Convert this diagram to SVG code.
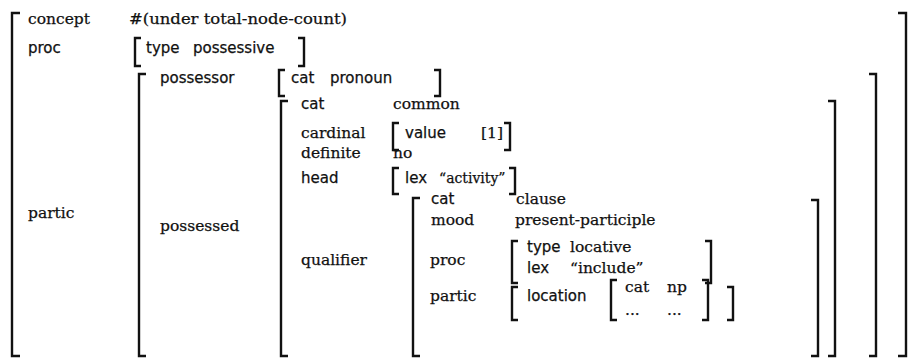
<svg xmlns="http://www.w3.org/2000/svg" width="915" height="360" viewBox="0 0 915 360">
<style>
.r{font-family:"DejaVu Serif","Liberation Serif",serif;font-size:15.5px;fill:#111;stroke:#111;stroke-width:0.25}
.s{font-family:"DejaVu Sans","Liberation Sans",sans-serif;font-size:15px;fill:#111;stroke:#111;stroke-width:0.25}
.b{fill:none;stroke:#111;stroke-width:2.4}
</style>
<rect width="915" height="360" fill="#fff"/>
<g id="root">
<path class="b" d="M20 13H12V356H20"/>
<path class="b" d="M898 13H906V356H898"/>
<text class="r" x="28" y="24">concept</text>
<text class="r" x="129" y="24" textLength="218" lengthAdjust="spacingAndGlyphs">#(under total-node-count)</text>
<text class="s" x="28" y="53">proc</text>
<text class="r" x="28" y="218">partic</text>
</g>
<g id="proc">
<path class="b" d="M141 38H135V66H141"/>
<path class="b" d="M298 38H304V66H298"/>
<text class="s" x="146" y="53">type</text>
<text class="s" x="193" y="53">possessive</text>
</g>
<g id="partic">
<path class="b" d="M146 74H139V356H146"/>
<path class="b" d="M869 74H876V356H869"/>
<text class="s" x="160" y="83">possessor</text>
<text class="r" x="160" y="231">possessed</text>
</g>
<g id="possessor">
<path class="b" d="M285 70H279V96H285"/>
<path class="b" d="M434 70H440V96H434"/>
<text class="s" x="291" y="83">cat</text>
<text class="s" x="330" y="83">pronoun</text>
</g>
<g id="possessed">
<path class="b" d="M288 101H281V356H288"/>
<path class="b" d="M828 101H835V356H828"/>
<text class="s" x="301" y="109">cat</text>
<text class="r" x="393" y="109">common</text>
<text class="r" x="301" y="138">cardinal</text>
<text class="r" x="301" y="158">definite</text>
<text class="r" x="393" y="158">no</text>
<text class="s" x="301" y="183">head</text>
<text class="r" x="301" y="265">qualifier</text>
</g>
<g id="cardinal">
<path class="b" d="M399 123H393V150H399"/>
<path class="b" d="M504 123H510V150H504"/>
<text class="s" x="405" y="138">value</text>
<text class="r" x="481" y="138">[1]</text>
</g>
<g id="head">
<path class="b" d="M399 168H393V194H399"/>
<path class="b" d="M509 168H515V194H509"/>
<text class="s" x="405" y="183">lex</text>
<text class="r" x="439" y="183" style="font-size:14px">“activity”</text>
</g>
<g id="qualifier">
<path class="b" d="M420 198H413V356H420"/>
<path class="b" d="M811 200H818V356H811"/>
<text class="s" x="431" y="204">cat</text>
<text class="r" x="516" y="204">clause</text>
<text class="r" x="431" y="225">mood</text>
<text class="r" x="515" y="225">present-participle</text>
<text class="r" x="430" y="265">proc</text>
<text class="r" x="430" y="301">partic</text>
</g>
<g id="qualifier-proc">
<path class="b" d="M518 241H512V283H518"/>
<path class="b" d="M705 241H711V283H705"/>
<text class="s" x="527" y="252">type</text>
<text class="r" x="570" y="252">locative</text>
<text class="s" x="527" y="273">lex</text>
<text class="r" x="570" y="273">“include”</text>
</g>
<g id="qualifier-partic">
<path class="b" d="M518 287H512V320H518"/>
<path class="b" d="M727 287H733V320H727"/>
<text class="s" x="527" y="301">location</text>
</g>
<g id="location">
<path class="b" d="M617 280H611V320H617"/>
<path class="b" d="M702 280H708V320H702"/>
<text class="r" x="625" y="292">cat</text>
<text class="r" x="667" y="292">np</text>
<text class="r" x="625" y="315">...</text>
<text class="r" x="667" y="315">...</text>
</g>
</svg>
